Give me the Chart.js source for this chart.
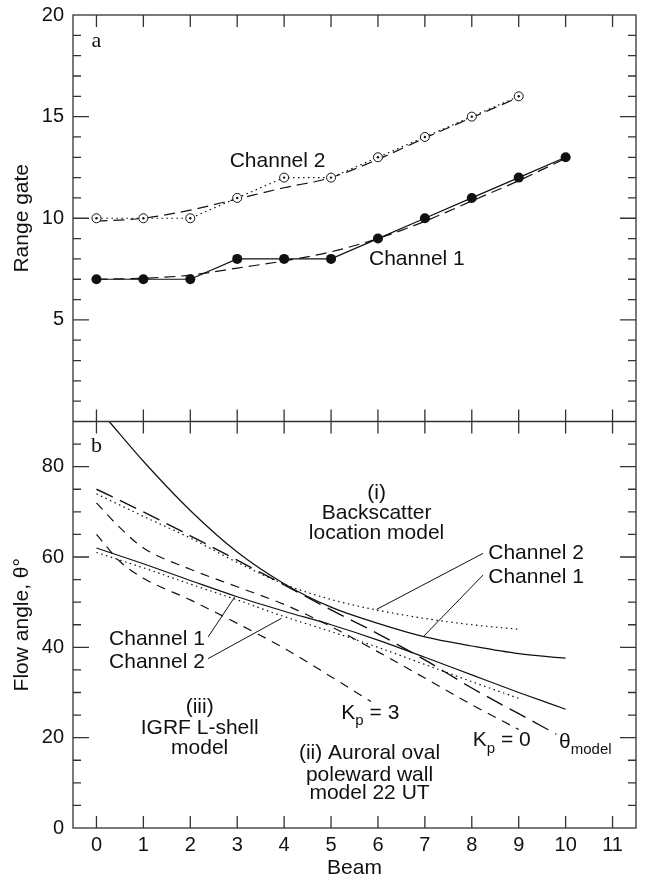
<!DOCTYPE html>
<html>
<head>
<meta charset="utf-8">
<script src="https://cdn.jsdelivr.net/npm/chart.js@4.4.1/dist/chart.umd.min.js"></script>
<style>
  html, body { margin: 0; padding: 0; background: #fff; }
  #wrap { width: 649px; height: 877px; }
</style>
</head>
<body>
<div id="wrap"><canvas id="chart" width="649" height="877"></canvas></div>
<script>
// --- panel a : range gate per beam ---
const beams = [0, 1, 2, 3, 4, 5, 6, 7, 8, 9, 10];
const ch1Gate = [7, 7, 7, 8, 8, 8, 9, 10, 11, 12, 13];
const ch1GateFit = [7.0, 7.05, 7.2, 7.55, 7.9, 8.35, 9.0, 9.85, 10.85, 11.85, 12.95];
const ch2Beams = [0, 1, 2, 3, 4, 5, 6, 7, 8, 9];
const ch2Gate = [10, 10, 10, 11, 12, 12, 13, 14, 15, 16];
const ch2GateFit = [9.85, 10.0, 10.4, 10.95, 11.5, 12.0, 12.9, 13.95, 14.95, 15.95];

// --- panel b : flow angle per beam ---
const backCh1Beams = [0.27, 1, 2, 3, 4, 5, 6, 7, 8, 9, 10];
const backCh1Angle = [90, 81.2, 70.3, 61.1, 54.1, 48.9, 45.3, 42.3, 40.3, 38.6, 37.6];
const backCh2Beams = [0, 1, 2, 3, 4, 5, 6, 7, 8, 9];
const backCh2Angle = [74, 69, 64.2, 58.8, 54.0, 50.6, 48.2, 46.4, 45.0, 44.0];
const modelBeams = [0, 1, 2, 3, 4, 5, 6, 7, 8, 9, 9.8];
const modelAngle = [75, 70, 64.7, 59.3, 53.8, 48.3, 43.0, 37.2, 31.0, 25.3, 20.8];
const igrfCh1Beams = [0, 1, 2, 3, 4, 5, 6, 7, 8, 9, 10];
const igrfCh1Angle = [62, 58.5, 54.8, 51.2, 48, 45, 41.6, 37.8, 33.9, 30, 26.3];
const igrfCh2Beams = [0, 1, 2, 3, 4, 5, 6, 7, 8, 9];
const igrfCh2Angle = [61, 57.6, 54, 50.5, 46.8, 43.5, 40, 36.2, 32.4, 28.7];
const kp0Beams = [0, 0.5, 1, 2, 3, 4, 5, 6, 7, 8, 9];
const kp0Angle = [72, 66.5, 62, 57.3, 53.4, 49.5, 44.6, 39, 33.2, 27.3, 21.8];
const kp3Beams = [0, 0.5, 1, 2, 3, 4, 5, 5.85];
const kp3Angle = [65, 59, 55.3, 50.5, 45.3, 39.8, 33.5, 28];

// tick labels
const beamTicks = [0, 1, 2, 3, 4, 5, 6, 7, 8, 9, 10, 11];
const gateTicks = [5, 10, 15, 20];
const angleTicks = [0, 20, 40, 60, 80];

const pts = (xs, ys) => xs.map((x, i) => ({ x: x, y: ys[i] }));
const INK = '#111';
const SANS = '"Liberation Sans", Arial, sans-serif';

function line(data, axis, dash, extra) {
    return Object.assign({
        data: data,
        yAxisID: axis,
        borderColor: INK,
        borderWidth: 1.2,
        borderDash: dash,
        pointRadius: 0,
        fill: false,
        cubicInterpolationMode: 'monotone'
    }, extra || {});
}

// texts placed in data units of their panel
const notes = [
    { ax: 'yTop', x: 0, y: 18.7, t: 'a', serif: true },
    { ax: 'yTop', x: 3.86, y: 12.8, t: 'Channel 2' },
    { ax: 'yTop', x: 6.83, y: 8.0, t: 'Channel 1' },
    { ax: 'yBot', x: 0, y: 84.5, t: 'b', serif: true },
    { ax: 'yBot', x: 5.97, y: 74.1, t: '(i)' },
    { ax: 'yBot', x: 5.97, y: 69.8, t: 'Backscatter' },
    { ax: 'yBot', x: 5.97, y: 65.3, t: 'location model' },
    { ax: 'yBot', x: 8.35, y: 60.8, t: 'Channel 2', align: 'left' },
    { ax: 'yBot', x: 8.35, y: 55.6, t: 'Channel 1', align: 'left' },
    { ax: 'yBot', x: 2.31, y: 41.8, t: 'Channel 1', align: 'right' },
    { ax: 'yBot', x: 2.31, y: 36.8, t: 'Channel 2', align: 'right' },
    { ax: 'yBot', x: 2.2, y: 26.8, t: '(iii)' },
    { ax: 'yBot', x: 2.2, y: 22.0, t: 'IGRF L-shell' },
    { ax: 'yBot', x: 2.2, y: 17.6, t: 'model' },
    { ax: 'yBot', x: 5.82, y: 16.5, t: '(ii) Auroral oval' },
    { ax: 'yBot', x: 5.82, y: 11.7, t: 'poleward wall' },
    { ax: 'yBot', x: 5.82, y: 7.6, t: 'model 22 UT' }
];
const subNotes = [
    { x: 5.22, y: 25.5, main: 'K', sub: 'p', rest: ' = 3' },
    { x: 8.02, y: 19.4, main: 'K', sub: 'p', rest: ' = 0' },
    { x: 9.86, y: 19.1, main: 'θ', sub: 'model', rest: '' }
];
const leaders = [
    [5.97, 48.4, 8.24, 60.8],
    [6.96, 42.3, 8.24, 56.0],
    [2.95, 51.2, 2.38, 42.3],
    [3.94, 46.4, 2.38, 37.5]
];

const framePlugin = {
    id: 'frame',
    afterDraw(chart) {
        const ctx = chart.ctx;
        const xs = chart.scales.x, yt = chart.scales.yTop, yb = chart.scales.yBot;
        const a = chart.chartArea;
        const mid = yt.bottom;
        ctx.save();
        ctx.strokeStyle = '#333';
        ctx.lineWidth = 1.3;
        ctx.strokeRect(a.left, a.top, a.right - a.left, a.bottom - a.top);
        ctx.beginPath();
        ctx.moveTo(a.left, mid); ctx.lineTo(a.right, mid);
        // beam ticks: top edge, both sides of the divider, bottom edge
        beamTicks.forEach(b => {
            const px = xs.getPixelForValue(b);
            ctx.moveTo(px, a.top); ctx.lineTo(px, a.top + 12);
            ctx.moveTo(px, mid - 12); ctx.lineTo(px, mid + 12);
            ctx.moveTo(px, a.bottom); ctx.lineTo(px, a.bottom - 12);
        });
        for (let v = 1; v < 20; v++) {
            const py = yt.getPixelForValue(v);
            const len = v % 5 === 0 ? 16 : 8;
            ctx.moveTo(a.left, py); ctx.lineTo(a.left + len, py);
            ctx.moveTo(a.right, py); ctx.lineTo(a.right - len, py);
        }
        for (let v = 5; v < 90; v += 5) {
            const py = yb.getPixelForValue(v);
            const len = v % 20 === 0 ? 16 : 8;
            ctx.moveTo(a.left, py); ctx.lineTo(a.left + len, py);
            ctx.moveTo(a.right, py); ctx.lineTo(a.right - len, py);
        }
        ctx.stroke();

        // leader lines
        ctx.strokeStyle = INK;
        ctx.lineWidth = 1;
        ctx.beginPath();
        leaders.forEach(l => {
            ctx.moveTo(xs.getPixelForValue(l[0]), yb.getPixelForValue(l[1]));
            ctx.lineTo(xs.getPixelForValue(l[2]), yb.getPixelForValue(l[3]));
        });
        ctx.stroke();

        // labels
        ctx.fillStyle = INK;
        ctx.textBaseline = 'middle';
        notes.forEach(n => {
            const sc = n.ax === 'yTop' ? yt : yb;
            ctx.font = n.serif ? '22px "Liberation Serif", "Times New Roman", serif' : '21px ' + SANS;
            ctx.textAlign = n.align || 'center';
            ctx.fillText(n.t, xs.getPixelForValue(n.x), sc.getPixelForValue(n.y));
        });
        ctx.textAlign = 'left';
        subNotes.forEach(n => {
            let px = xs.getPixelForValue(n.x);
            const py = yb.getPixelForValue(n.y);
            ctx.font = '21px ' + SANS;
            ctx.fillText(n.main, px, py);
            px += ctx.measureText(n.main).width;
            ctx.font = '15px ' + SANS;
            ctx.fillText(n.sub, px, py + 8);
            px += ctx.measureText(n.sub).width;
            ctx.font = '21px ' + SANS;
            ctx.fillText(n.rest, px, py);
        });
        ctx.restore();
    }
};

const yCommon = {
    type: 'linear',
    position: 'left',
    stack: 'panels',
    stackWeight: 1,
    grid: { display: false, drawTicks: false },
    border: { display: false },
    ticks: { color: INK, font: { family: SANS, size: 20 }, padding: 9 },
    // fixed axis width, and no extra room kept for the end labels
    afterFit: s => { s.width = 73; s.paddingTop = 0; s.paddingBottom = 0; }
};

new Chart(document.getElementById('chart'), {
    type: 'line',
    data: {
        datasets: [
            // panel a markers on top
            line(pts(ch2Beams, ch2Gate), 'yTop', [], {
                showLine: false, pointRadius: 1.2, pointBackgroundColor: INK, pointBorderWidth: 0
            }),
            line(pts(ch2Beams, ch2Gate), 'yTop', [1.5, 3.5], {
                cubicInterpolationMode: 'default', tension: 0,
                pointRadius: 4.5, pointBackgroundColor: '#fff', pointBorderColor: INK, pointBorderWidth: 1
            }),
            line(pts(beams, ch1Gate), 'yTop', [], {
                cubicInterpolationMode: 'default', tension: 0,
                pointRadius: 5, pointBackgroundColor: INK, pointBorderColor: INK, pointBorderWidth: 0
            }),
            line(pts(beams, ch1GateFit), 'yTop', [11, 6]),
            line(pts(ch2Beams, ch2GateFit), 'yTop', [11, 6]),
            // panel b
            line(pts(backCh1Beams, backCh1Angle), 'yBot', []),
            line(pts(backCh2Beams, backCh2Angle), 'yBot', [1.5, 3.5]),
            line(pts(modelBeams, modelAngle), 'yBot', [18, 8], { borderWidth: 1.4 }),
            line(pts(igrfCh1Beams, igrfCh1Angle), 'yBot', []),
            line(pts(igrfCh2Beams, igrfCh2Angle), 'yBot', [1.5, 3.5]),
            line(pts(kp0Beams, kp0Angle), 'yBot', [9, 7]),
            line(pts(kp3Beams, kp3Angle), 'yBot', [9, 7])
        ]
    },
    options: {
        responsive: false,
        animation: false,
        devicePixelRatio: 1,
        layout: { padding: { top: 15, right: 13, bottom: 0, left: 0 } },
        plugins: { legend: { display: false }, tooltip: { enabled: false } },
        scales: {
            x: {
                type: 'linear',
                min: -0.5,
                max: 11.5,
                grid: { display: false, drawTicks: false },
                border: { display: false },
                ticks: { color: INK, font: { family: SANS, size: 20 }, padding: 5, maxRotation: 0, autoSkip: false },
                afterBuildTicks: s => { s.ticks = beamTicks.map(v => ({ value: v })); },
                afterFit: s => { s.height = 49; },
                title: { display: true, text: 'Beam', color: INK, font: { family: SANS, size: 21 }, padding: { top: 0, bottom: -4 } }
            },
            // stacked left axes: the one declared first ends up at the bottom
            yBot: Object.assign({}, yCommon, {
                min: 0, max: 90,
                afterBuildTicks: s => { s.ticks = angleTicks.map(v => ({ value: v })); },
                title: { display: true, text: 'Flow angle, θ°', color: INK, font: { family: SANS, size: 21 }, padding: { top: 10, bottom: 0 } }
            }),
            yTop: Object.assign({}, yCommon, {
                min: 0, max: 20,
                afterBuildTicks: s => { s.ticks = gateTicks.map(v => ({ value: v })); },
                title: { display: true, text: 'Range gate', color: INK, font: { family: SANS, size: 21 }, padding: { top: 10, bottom: 0 } }
            })
        }
    },
    plugins: [framePlugin]
});
</script>
</body>
</html>
